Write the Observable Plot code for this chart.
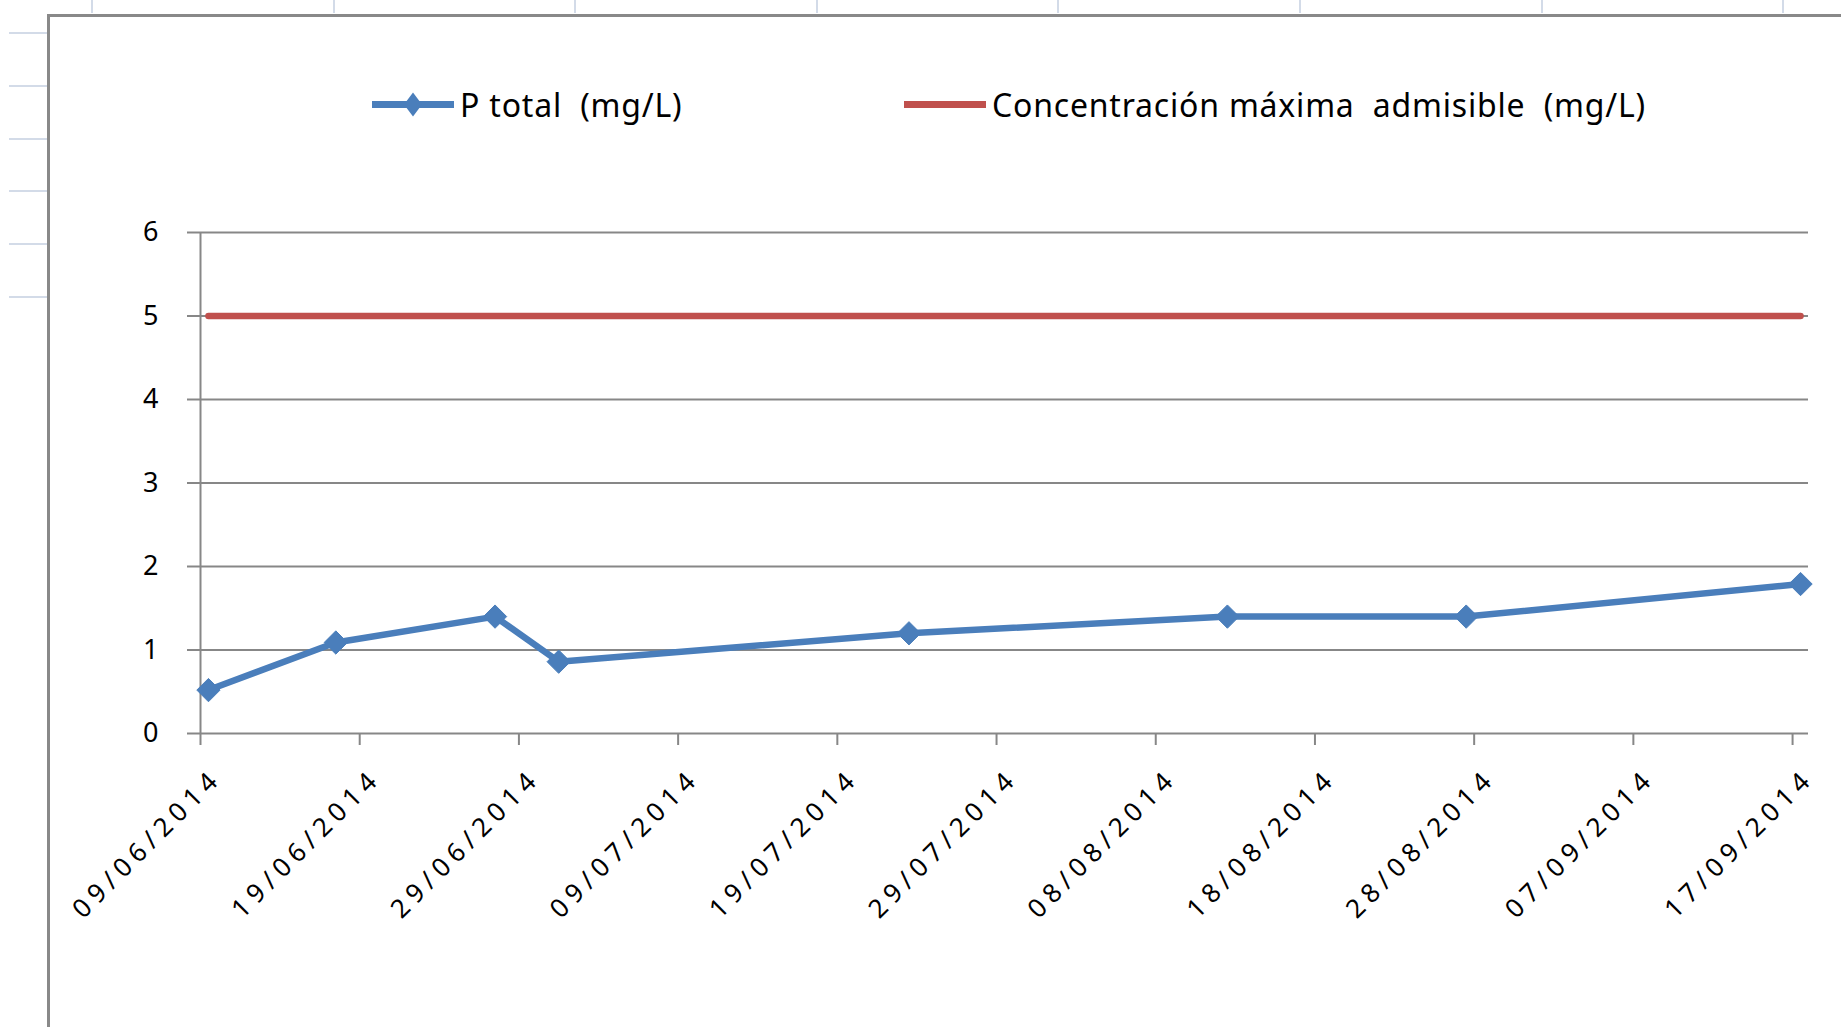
<!DOCTYPE html>
<html>
<head>
<meta charset="utf-8">
<script src="https://cdn.jsdelivr.net/npm/d3@7"></script>
<script src="https://cdn.jsdelivr.net/npm/@observablehq/plot@0.6"></script>
<style>
  html, body { margin: 0; padding: 0; background: #fff; }
  #wrap { position: relative; width: 1841px; height: 1027px; overflow: hidden; font-family: "Noto Sans", sans-serif; }
  #legend { position: relative; height: 150px; }
  .item { position: absolute; top: 104px; transform: translateY(-50%); display: flex; align-items: center;
          font-size: 32px; letter-spacing: 0.8px; white-space: pre; color: #000; }
  .item svg { display: block; margin-right: 6px; }
  #frame { position: absolute; left: 47px; top: 14px; right: -10px; bottom: -10px;
           border-top: 3px solid #898989; border-left: 3px solid #898989; pointer-events: none; }
  #cellsTop { position: absolute; left: 0; top: 0; width: 1841px; height: 13px;
              background: repeating-linear-gradient(to right, #d3dbe8 0 2px, transparent 2px 241.6px);
              background-position: 91px 0; }
  #cellsLeft { position: absolute; left: 9px; top: 20px; width: 38px; height: 285px;
               background: repeating-linear-gradient(to bottom, transparent 0 12px, #d3dbe8 12px 14px, transparent 14px 52.8px); }
  #chart { position: relative; }
  svg [aria-label="x-axis tick label"] text { letter-spacing: 6px; }
</style>
</head>
<body>
<div id="wrap">
  <div id="cellsTop"></div>
  <div id="cellsLeft"></div>
  <div id="frame"></div>
  <div id="legend"></div>
  <div id="chart"></div>
</div>
<script>
// ---- data ----
const sampleDates = ["09/06/2014", "17/06/2014", "27/06/2014", "01/07/2014", "23/07/2014", "12/08/2014", "27/08/2014", "17/09/2014"];
const pTotal      = [0.52, 1.09, 1.4, 0.86, 1.2, 1.4, 1.4, 1.79];
const maxAllowed  = [5, 5, 5, 5, 5, 5, 5, 5];
const xTickLabels = ["09/06/2014", "19/06/2014", "29/06/2014", "09/07/2014", "19/07/2014", "29/07/2014",
                     "08/08/2014", "18/08/2014", "28/08/2014", "07/09/2014", "17/09/2014"];
const xRange      = ["09/06/2014", "18/09/2014"];
const yTicks      = [0, 1, 2, 3, 4, 5, 6];
const seriesNames = ["P total  (mg/L)", "Concentración máxima  admisible  (mg/L)"];
const colors      = ["#4A7EBB", "#C0504D"];

const parse = d3.utcParse("%d/%m/%Y");
const fmt = d3.utcFormat("%d/%m/%Y");
// Excel date axis places each point in the middle of its day
const rows = sampleDates.map((d, i) => ({
  date: d3.utcHour.offset(parse(d), 12),
  p: pTotal[i],
  max: maxAllowed[i]
}));
const tickDates = xTickLabels.map(parse);
const grey = "#878787";

// ---- legend ----
const legend = document.getElementById("legend");
const lefts = [372, 904];
seriesNames.forEach((name, i) => {
  const item = document.createElement("div");
  item.className = "item";
  item.style.left = lefts[i] + "px";
  const marker = i === 0
    ? `<path d="M41,-12 L50,0 L41,12 L32,0 Z" fill="${colors[0]}" transform="translate(0,15)"/>`
    : "";
  item.innerHTML = `<svg width="82" height="30"><line x1="0" x2="82" y1="15" y2="15" stroke="${colors[i]}" stroke-width="7"/>${marker}</svg><span>${name}</span>`;
  legend.appendChild(item);
});

// ---- chart ----
const chart = Plot.plot({
  width: 1841,
  height: 877,
  marginLeft: 200,
  marginRight: 33,
  marginTop: 82,
  marginBottom: 294,
  style: { fontFamily: "Noto Sans, sans-serif", fontSize: "26px", color: "#000", background: "transparent", overflow: "visible" },
  x: { type: "utc", domain: xRange.map(parse) },
  y: { domain: [0, 6] },
  marks: [
    Plot.gridY(yTicks, { stroke: grey, strokeOpacity: 1, strokeWidth: 2 }),
    Plot.ruleX([parse(xRange[0])], { y1: 0, y2: 6, stroke: grey, strokeWidth: 2 }),
    Plot.axisY(yTicks, { tickSize: 13, tickPadding: 29, stroke: grey, strokeWidth: 2, strokeOpacity: 1,
                         fontSize: 27, fill: "#000", tickFormat: d => String(d), label: null }),
    // tick marks only
    Plot.axisX(tickDates, { tickSize: 12, stroke: grey, strokeWidth: 2, strokeOpacity: 1,
                            tickFormat: () => "", label: null }),
    // rotated labels only
    Plot.axisX(tickDates, { tickSize: 0, tickPadding: 40, tickRotate: -45, dx: 17,
                            fontSize: 26, fill: "#000", tickFormat: fmt, label: null }),
    Plot.line(rows, { x: "date", y: "max", stroke: colors[1], strokeWidth: 6.5 }),
    Plot.line(rows, { x: "date", y: "p", stroke: colors[0], strokeWidth: 6.5, strokeLinejoin: "round" }),
    Plot.dot(rows, { x: "date", y: "p", symbol: "diamond2", r: 10.5, fill: colors[0], stroke: colors[0], strokeWidth: 1 })
  ]
});
document.getElementById("chart").appendChild(chart);
</script>
</body>
</html>
